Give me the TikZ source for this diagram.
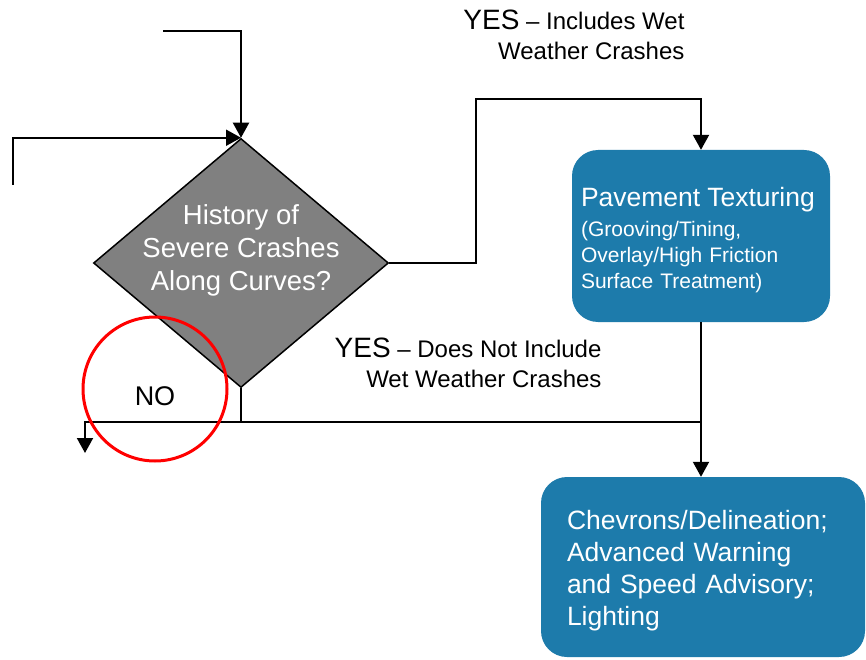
\documentclass[tikz,border=0pt]{standalone}
\usepackage{fontspec}
\setmainfont{Liberation Sans}
\usetikzlibrary{shapes.geometric,arrows.meta}
\definecolor{boxblue}{RGB}{29,123,171}
\definecolor{diagray}{RGB}{128,128,128}
\begin{document}
\begin{tikzpicture}[x=1pt, y=-1pt,
        flow/.style={line width=2pt, -{Triangle[width=16pt,length=15pt]}},
        link/.style={line width=2pt},
        decision/.style={diamond, draw=black, line width=1.5pt, fill=diagray, inner sep=0pt, minimum width=295pt, minimum height=249pt},
        action/.style={rectangle, rounded corners=26pt, fill=boxblue, text=white, align=left, inner sep=0pt}]
            \useasboundingbox (0, 0) rectangle (866, 660);

            \node [decision] (hist) at (241, 263) {};
            \node [text=white, align=center, font=\fontsize{27.5}{33}\selectfont] (histtext) at (241, 250) {History of\\Severe Crashes\\Along Curves?};

            \node [action, minimum width=258pt, minimum height=172pt, text width=240pt,
                   font=\fontsize{21}{26}\selectfont] (pave) at (701, 236)
                  {{\fontsize{26.5}{26}\selectfont Pavement Texturing}\\[4pt](Grooving/Tining,\\Overlay/High Friction\\Surface Treatment)\par\vspace{-9pt}};
            \node [action, minimum width=324pt, minimum height=180pt, text width=272pt,
                   font=\fontsize{26.5}{32}\selectfont] (chev) at (703, 567)
                  {Chevrons/Delineation;\\Advanced Warning\\and Speed Advisory;\\Lighting\par\vspace{-8pt}};

            % lines coming in
            \coordinate (topin) at (163, 31);
            \coordinate (leftin) at (13, 185);
            \draw [flow] (topin) -| (hist.north);
            \draw [flow] (leftin) |- (hist.north);

            % yes, wet weather
            \coordinate (yesbend) at (476, 99);
            \draw [flow] (hist.east) -| (yesbend) -| (pave.north);
            \draw [flow] (pave.south) -- (pave.south |- chev.north);

            % yes, not wet weather / no
            \coordinate (nojunc) at (241, 422);
            \coordinate (noend) at (85, 453);
            \draw [link] (hist.south) -- (nojunc) -- (nojunc -| pave.south);
            \draw [flow] (nojunc) -| (noend);

            \node [align=right, anchor=east, font=\fontsize{24}{30}\selectfont] (yeswet) at (688, 35)
                  {{\fontsize{28}{30}\selectfont YES} -- Includes Wet\\Weather Crashes};
            \node [align=right, anchor=east, font=\fontsize{24}{30}\selectfont] (yesdry) at (605, 363)
                  {{\fontsize{28}{30}\selectfont YES} -- Does Not Include\\Wet Weather Crashes};
            \node [font=\fontsize{27}{27}\selectfont] (nolabel) at (155, 396) {NO};

            \node [circle, draw=red, line width=3pt, minimum size=144pt, inner sep=0pt] (nocircle) at (155, 389) {};
        \end{tikzpicture}
\end{document}
